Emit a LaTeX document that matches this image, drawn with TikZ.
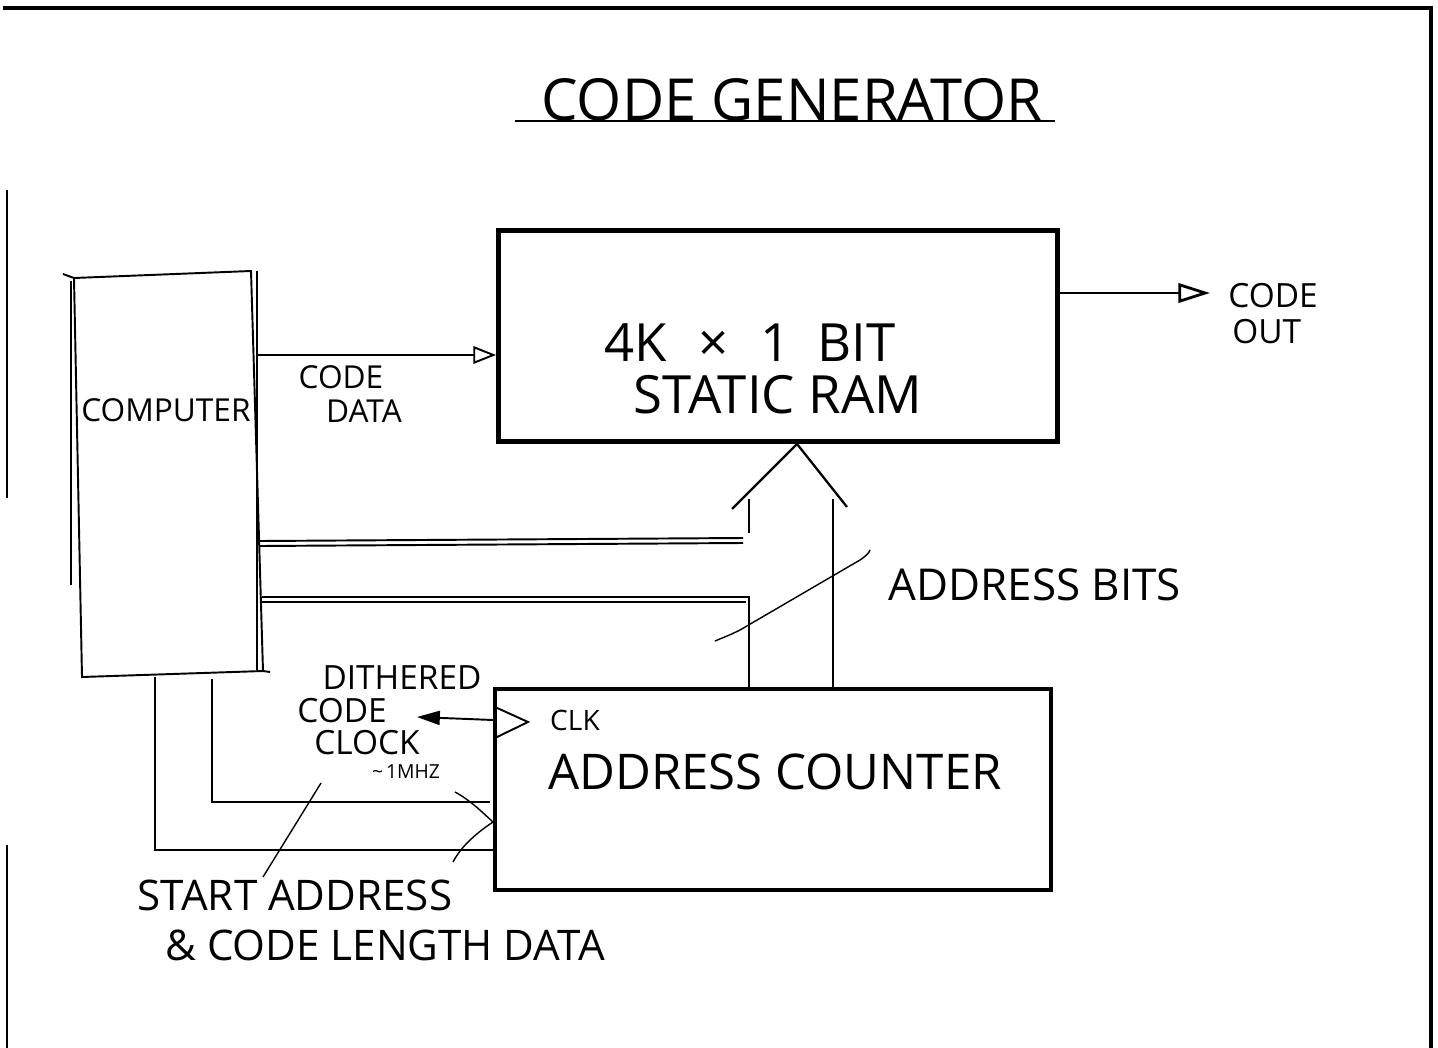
\documentclass[tikz,border=0pt]{standalone}
\usepackage{fontspec}
\setmainfont{Open Sans}
\usetikzlibrary{arrows.meta}
\begin{document}
\begin{tikzpicture}[x=0.02cm,y=-0.02cm,
  lbl/.style={inner sep=0pt, font=\fontsize{#1}{#1}\selectfont},
  wire/.style={line width=1.1pt},
  fine/.style={line width=0.8pt},
  heavy/.style={draw, line width=2.8pt},
  medbox/.style={draw, line width=2.2pt},
  openhead/.style={-{Triangle[open,length=13pt,width=10pt,line width=1.1pt]}},
  outhead/.style={-{Triangle[open,length=18pt,width=11pt,line width=1.6pt]}},
  fillhead/.style={-{Triangle[length=13pt,width=8pt]}},
]
\useasboundingbox (0,0) rectangle (1438,1048);
% page frame
\draw[line width=1.8pt] (3,8) -- (1431,8) -- (1431,1048);
\draw[fine] (7,190) -- (7,498);
\draw[fine] (7,845) -- (7,1048);

% title
\node[lbl=33] (title) at (792,100) {CODE GENERATOR};
\draw[line width=1.6pt] (515,121) -- (1055,121);

% RAM
\node[heavy, minimum width=11.18cm, minimum height=4.22cm] (ram) at (778,336) {};
\node[lbl=30] (ramtxt1) at (750,343) {4K\hspace{0.6em}×\hspace{0.6em}1\hspace{0.5em}BIT};
\node[lbl=30] (ramtxt2) at (778,395) {STATIC RAM};

% output
\coordinate (cout) at (1210,293);
\draw[line width=1.7pt, outhead] (ram.east |- cout) -- (cout);
\node[lbl=19, anchor=west] (outtxt1) at (1228,296) {CODE};
\node[lbl=19, anchor=west] (outtxt2) at (1232,332) {OUT};

% computer
\coordinate (c1) at (74,278);
\coordinate (c2) at (251,271);
\coordinate (c3) at (263,671);
\coordinate (c4) at (82,677);
\draw[wire] (c1) -- (c2) -- (c3) -- (c4) -- cycle;
\draw[line width=1.5pt] (71,281) -- (71,585);
\draw[wire] (257,271) -- (257,670);
\draw[wire] (63,274) -- (c1);
\draw[wire] (c3) -- (270,672);
\node[lbl=18] (comptxt) at (166,410) {COMPUTER};

% code data
\coordinate (cd) at (257,355);
\draw[wire, openhead] (cd) -- (ram.west |- cd);
\node[lbl=18] (cdtxt1) at (341,377) {CODE};
\node[lbl=18] (cdtxt2) at (364,411) {DATA};

% address counter
\node[medbox, minimum width=11.12cm, minimum height=4.02cm] (counter) at (773,789.5) {};
\node[lbl=28] (cnttxt) at (775,772) {ADDRESS COUNTER};
\node[lbl=16] (clktxt) at (575,720) {CLK};
\draw[wire] (495,707) -- (528,722) -- (495,738);

% address bus
\coordinate (busl) at (749,597);
\coordinate (busr) at (833,499);
\draw[wire] (260,541) -- (743,538);
\draw[wire] (260,546) -- (743,543);
\draw[wire] (262,597) -- (busl) -- (busl |- counter.north);
\draw[wire] (262,602) -- (746,602);
\draw[wire] (749,499) -- (749,533);
\draw[line width=1.4pt] (busr) -- (busr |- counter.north);
\coordinate (apex) at (797,445);
\draw[line width=1.3pt] (732,509) -- (apex |- ram.south) -- (847,507);
\draw[fine] (715,641) .. controls (722,638) and (728,636) .. (740,630) -- (860,560) .. controls (866,556) and (869,553) .. (870,550);
\node[lbl=25] (abtxt) at (1035,585) {ADDRESS BITS};

% dithered clock
\coordinate (clk) at (417,717);
\coordinate (clkin) at (495,720);
\draw[wire, fillhead] (counter.west |- clkin) -- (clk);
\node[lbl=19] (d1) at (402,678) {DITHERED};
\node[lbl=19] (d2) at (342,711) {CODE};
\node[lbl=19] (d3) at (367,743) {CLOCK};
\node[lbl=11] (d4) at (406,772) {\char"007E\hspace{0.15em}1MHZ};

% start address / code length lines
\coordinate (sl) at (490,850);
\draw[wire] (155,677) |- (counter.west |- sl);
\draw[wire] (212,679) |- (490,802);
\draw[fine] (455,792) .. controls (470,800) and (482,812) .. (493,822)
             .. controls (478,832) and (462,845) .. (453,862);
\draw[fine] (321,783) -- (263,877);
\node[lbl=24] (sa1) at (295,895) {START ADDRESS};
\node[lbl=24] (sa2) at (385,945) {\&\ CODE LENGTH DATA};
\end{tikzpicture}
\end{document}
